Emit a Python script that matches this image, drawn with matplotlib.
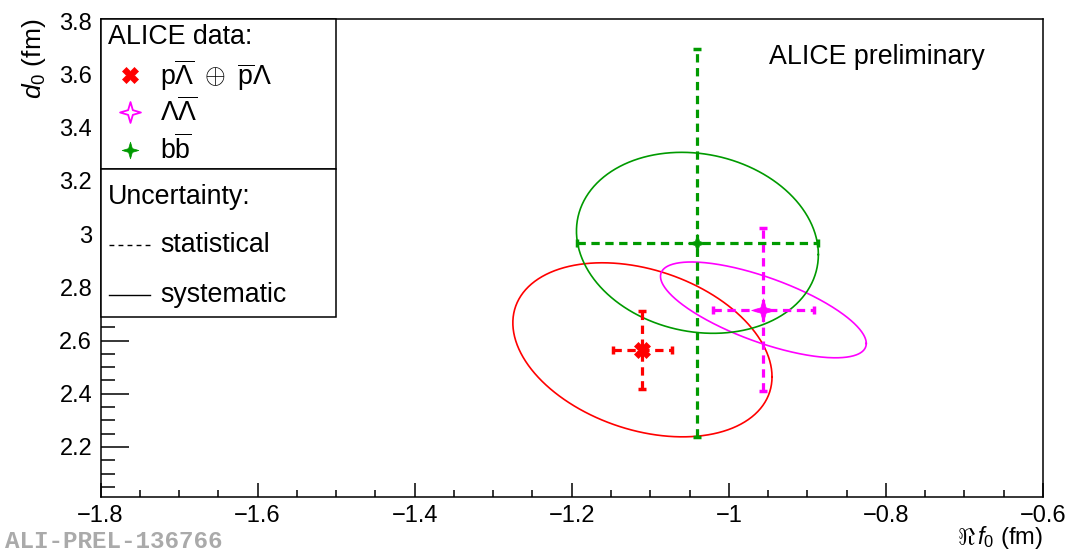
import numpy as np
import matplotlib
matplotlib.use("Agg")
import matplotlib.pyplot as plt
from matplotlib.path import Path
from matplotlib.lines import Line2D
from matplotlib.patches import Rectangle
from matplotlib.ticker import MultipleLocator, FuncFormatter

plt.rcParams['font.family'] = ['Liberation Sans', 'DejaVu Sans']
plt.rcParams['mathtext.fontset'] = 'custom'
plt.rcParams['mathtext.rm'] = 'Liberation Sans'
plt.rcParams['mathtext.it'] = 'Liberation Sans:italic'
plt.rcParams['mathtext.bf'] = 'Liberation Sans:bold'
plt.rcParams['lines.scale_dashes'] = False

# ---- data: scattering length Re f0 and effective range d0 (fm) ----
systems = ['pL', 'LL', 'bb']
labels = [r'$\mathrm{p}\overline{\Lambda}\ \oplus\ \overline{\mathrm{p}}\Lambda$',
          r'$\Lambda\overline{\Lambda}$',
          r'$\mathrm{b}\overline{\mathrm{b}}$']
re_f0 = [-1.110, -0.956, -1.040]
d0 = [2.565, 2.715, 2.967]
stat_f0 = [0.038, 0.064, 0.1535]
stat_d0 = [0.146, 0.306, 0.729]
# systematic uncertainty ellipses: widths and correlation
sys_f0 = [0.165, 0.131, 0.154]
sys_d0 = [0.327, 0.180, 0.340]
sys_rho = [-0.31, -0.70, -0.13]

colors = ['#ff0000', '#ff00ff', '#009a00']

# four-pointed star marker
ang = np.pi / 2 + np.arange(8) * np.pi / 4
rad = np.where(np.arange(8) % 2 == 0, 1.0, 0.32)
star_verts = np.column_stack([rad * np.cos(ang), rad * np.sin(ang)])
star_verts = np.vstack([star_verts, star_verts[:1]])
star = Path(star_verts, [Path.MOVETO] + [Path.LINETO] * 7 + [Path.CLOSEPOLY])

markers = ['X', star, star]
msizes = [12, 17, 13]

fig = plt.figure(figsize=(10.66, 5.54), dpi=100)
ax = fig.add_axes([0.0943, 0.1029, 0.8841, 0.8628])

t = np.linspace(0, 2 * np.pi, 400)
dash = (0, (6, 4))
for i in range(3):
    ex = re_f0[i] + sys_f0[i] * np.cos(t)
    ey = d0[i] + sys_d0[i] * (sys_rho[i] * np.cos(t) + np.sqrt(1 - sys_rho[i] ** 2) * np.sin(t))
    ax.plot(ex, ey, color=colors[i], lw=1.2, zorder=2)

for i in range(3):
    eb = ax.errorbar(re_f0[i], d0[i], xerr=stat_f0[i], yerr=stat_d0[i],
                     fmt='none', ecolor=colors[i], elinewidth=2.3,
                     capsize=3, capthick=2.5, zorder=3)
    for lc in eb[2]:
        lc.set_linestyle(dash)
    ax.plot(re_f0[i], d0[i], marker=markers[i], ms=msizes[i], color=colors[i],
            mec=colors[i], mew=0.5, ls='none', zorder=4)

ax.set_xlim(-1.8, -0.6)
ax.set_ylim(2.012, 3.808)

ax.xaxis.set_major_locator(MultipleLocator(0.2))
ax.xaxis.set_minor_locator(MultipleLocator(0.05))
ax.yaxis.set_major_locator(MultipleLocator(0.2))
ax.yaxis.set_minor_locator(MultipleLocator(0.05))
fmt = FuncFormatter(lambda v, p: ('%g' % round(v, 3)).replace('-', '\u2212'))
ax.xaxis.set_major_formatter(fmt)
ax.yaxis.set_major_formatter(fmt)
ax.tick_params(axis='both', which='both', direction='in', top=False, right=False,
               width=1.1, labelsize=17, pad=6)
ax.tick_params(axis='x', which='major', length=10)
ax.tick_params(axis='x', which='minor', length=5)
ax.tick_params(axis='y', which='major', length=20)
ax.tick_params(axis='y', which='minor', length=10)
for s in ax.spines.values():
    s.set_linewidth(1.1)

ax.set_xlabel(r'$\Re\,f_{0}$ (fm)', fontsize=17, loc='right')
ax.xaxis.set_label_coords(1.0, -0.056)
ax.set_ylabel(r'$d_{0}$ (fm)', fontsize=19, loc='top')
ax.yaxis.set_label_coords(-0.056, 1.0)

ax.text(0.9385, 0.92, 'ALICE preliminary', transform=ax.transAxes,
        fontsize=19.3, ha='right', va='center')

# legend boxes (white fill hides the axis ticks beneath)
tr = ax.transAxes
box_r, div_y, box_b = 0.2496, 0.6856, 0.3759
ax.add_patch(Rectangle((0, div_y), box_r, 1 - div_y, transform=tr, facecolor='white',
                       edgecolor='black', lw=1.1, zorder=5, clip_on=False))
ax.add_patch(Rectangle((0, box_b), box_r, div_y - box_b, transform=tr, facecolor='white',
                       edgecolor='black', lw=1.1, zorder=5, clip_on=False))

ax.text(0.008, 0.962, 'ALICE data:', transform=tr, fontsize=19.3, va='center',
        ha='left', zorder=7)
row_y = [0.8828, 0.8054, 0.7259]
leg_face = [colors[0], 'white', colors[2]]
leg_ms = [11, 15, 12]
for i in range(3):
    ax.add_line(Line2D([0.0313], [row_y[i]], transform=tr, marker=markers[i],
                       ms=leg_ms[i], mfc=leg_face[i], mec=colors[i],
                       mew=1.3 if i == 1 else 0.5, ls='none', zorder=7))
    ax.text(0.0631, row_y[i], labels[i], transform=tr, fontsize=19.3,
            va='center', ha='left', zorder=7)

ax.text(0.008, 0.6276, 'Uncertainty:', transform=tr, fontsize=19.3, va='center',
        ha='left', zorder=7)
ax.plot([0.009, 0.0525], [0.5272, 0.5272], transform=tr, color='black', lw=1.0,
        ls=(0, (3.5, 3)), zorder=7)
ax.text(0.0631, 0.5272, 'statistical', transform=tr, fontsize=19.3, va='center',
        ha='left', zorder=7)
ax.plot([0.009, 0.0525], [0.4226, 0.4226], transform=tr, color='black', lw=1.0, zorder=7)
ax.text(0.0631, 0.4226, 'systematic', transform=tr, fontsize=19.3, va='center',
        ha='left', zorder=7)

fig.text(5 / 1066, 1 - 541 / 554, 'ALI-PREL-136766', fontsize=17.5,
         family='Liberation Mono', weight='bold', color='#aaaaaa',
         ha='left', va='center')

fig.savefig('out.png', dpi=100)
